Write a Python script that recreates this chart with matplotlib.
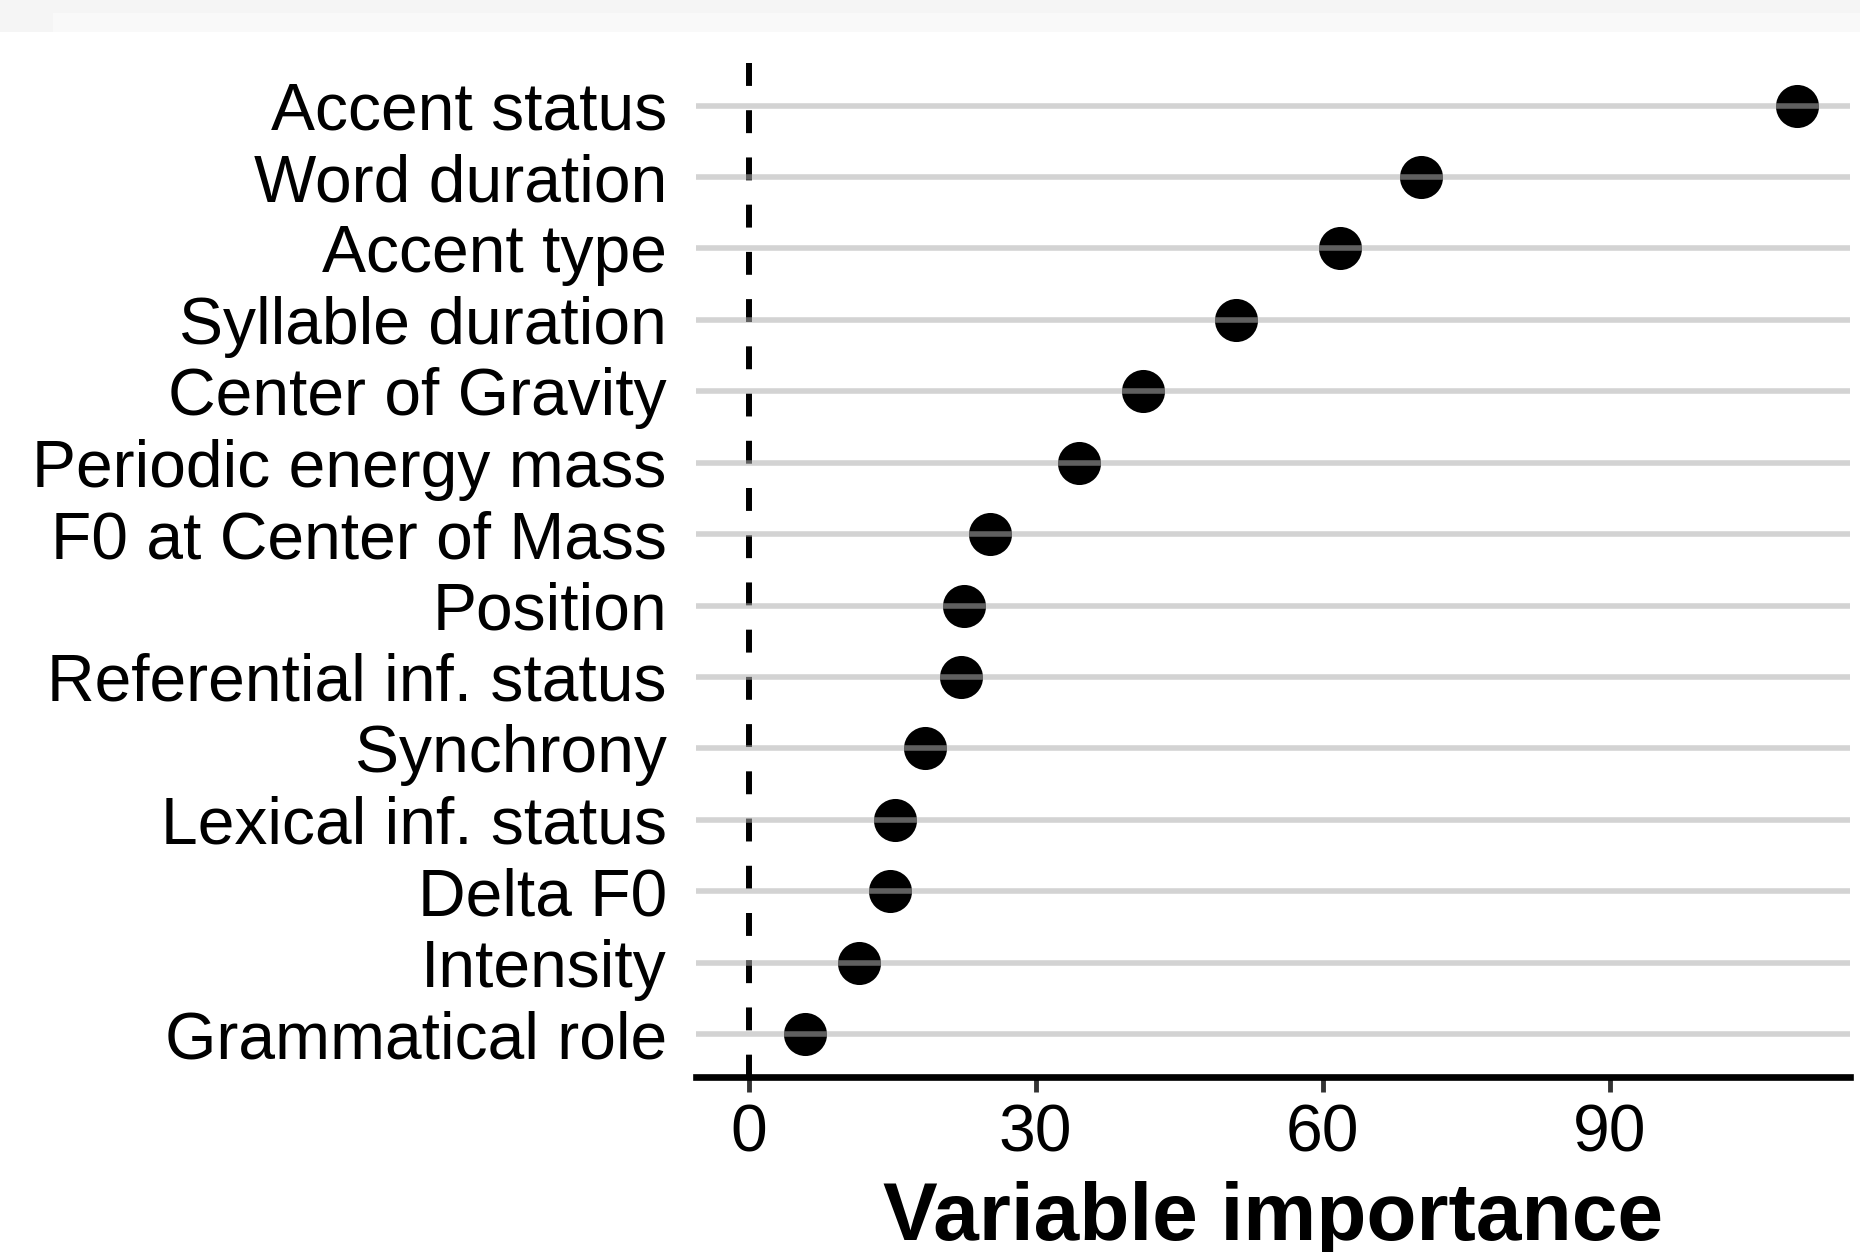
import matplotlib
matplotlib.use("Agg")
import matplotlib.pyplot as plt
from matplotlib.patches import Rectangle

# variables, top to bottom
variables = ["Accent status", "Word duration", "Accent type", "Syllable duration",
             "Center of Gravity", "Periodic energy mass", "F0 at Center of Mass",
             "Position", "Referential inf. status", "Synchrony", "Lexical inf. status",
             "Delta F0", "Intensity", "Grammatical role"]
importance = [109.6, 70.3, 61.8, 50.9, 41.2, 34.5, 25.2,
              22.5, 22.2, 18.4, 15.3, 14.8, 11.5, 5.9]
x_ticks = [0, 30, 60, 90]

plt.rcParams['font.family'] = ['Liberation Sans', 'DejaVu Sans']

fig = plt.figure(figsize=(18.6, 12.52), dpi=100)
ax = fig.add_axes([0.3742, 0.1398, 0.6204, 0.8101])

# faint band at the very top of the image
fig.patches.append(Rectangle((0, 1 - 32 / 1252), 1, 32 / 1252, transform=fig.transFigure,
                             facecolor="#f5f5f5", edgecolor="none", zorder=0))
fig.patches.append(Rectangle((53 / 1860, 1 - 32 / 1252), 1, 19 / 1252, transform=fig.transFigure,
                             facecolor="#f9f9f9", edgecolor="none", zorder=0))

ypos = list(range(len(variables)))

# reference line at zero, dashes starting at the top
lw_v = 4.3
ax.plot([0, 0], [-0.6, len(variables) - 0.4], color="black", lw=lw_v,
        linestyle=(0, (16.5 / lw_v, 17.5 / lw_v)), zorder=1, solid_capstyle="butt")

ax.scatter(importance, ypos, s=31 ** 2, color="black", zorder=2, linewidths=0)

# horizontal grid lines drawn over the dots
for y in ypos:
    ax.axhline(y, color="#afafaf", alpha=0.55, lw=4, zorder=3)

ax.set_xlim(-5.5, 115.1)
ax.set_ylim(len(variables) - 0.4, -0.6)
ax.set_yticks(ypos)
ax.set_yticklabels(variables)
ax.set_xticks(x_ticks)
ax.set_xticklabels([str(t) for t in x_ticks])

for side in ["top", "right", "left"]:
    ax.spines[side].set_visible(False)
ax.spines["bottom"].set_linewidth(4.8)
ax.spines["bottom"].set_color("black")
ax.spines["bottom"].set_zorder(4)

ax.tick_params(axis="y", length=0, pad=21, labelsize=47.5, labelcolor="black")
ax.tick_params(axis="x", length=11, width=3.5, color="#333333", pad=8,
               labelsize=47.5, labelcolor="black")

# the title runs off the bottom edge, as in the reference
ax.set_xlabel("Variable importance", fontsize=59, fontweight="bold", labelpad=11)

fig.savefig("out.png", dpi=100)
